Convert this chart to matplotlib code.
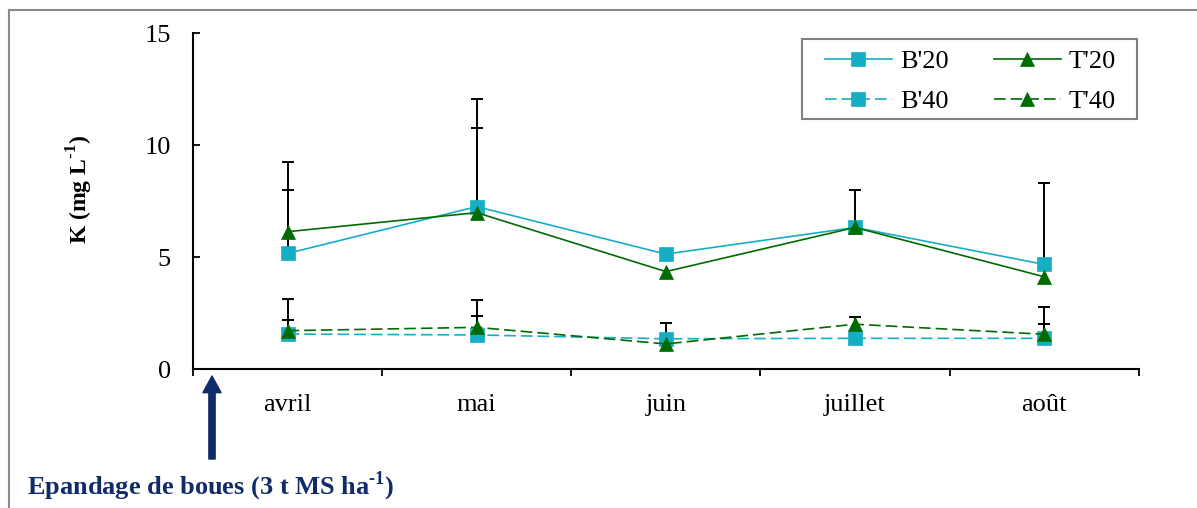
import numpy as np
import matplotlib
matplotlib.use('Agg')
import matplotlib.pyplot as plt
from matplotlib.patches import Rectangle

plt.rcParams['font.family'] = ['Liberation Serif', 'DejaVu Serif']
plt.rcParams['mathtext.fontset'] = 'custom'
plt.rcParams['mathtext.rm'] = 'Liberation Serif:bold'
plt.rcParams['mathtext.bf'] = 'Liberation Serif:bold'

months = ['avril', 'mai', 'juin', 'juillet', 'août']

# mean K concentrations (mg/L)
b20 = [5.16, 7.25, 5.13, 6.32, 4.67]
t20 = [6.13, 6.98, 4.35, 6.32, 4.12]
b40 = [1.56, 1.52, 1.35, 1.37, 1.37]
t40 = [1.71, 1.86, 1.12, 2.00, 1.55]

# upper error bars only (0 = none visible)
b20_err = [2.83, 4.79, 0.0, 0.0, 3.65]
t20_err = [3.10, 3.76, 0.0, 1.67, 0.0]
b40_err = [0.63, 0.85, 0.69, 0.0, 0.63]
t40_err = [1.40, 1.22, 0.0, 0.33, 1.20]

cyan = '#16aec4'
green = '#006b00'
navy = '#0f2b69'

W, H = 1197, 508
fig = plt.figure(figsize=(W / 100, H / 100), dpi=100)
ax = fig.add_axes([0.1612, 0.2736, 0.9513 - 0.1612, 0.935 - 0.2736])

x = np.arange(len(months)) + 0.5

series = [
    ("B'20", b20, b20_err, cyan, 's', '-'),
    ("T'20", t20, t20_err, green, '^', '-'),
    ("B'40", b40, b40_err, cyan, 's', (0, (7, 3))),
    ("T'40", t40, t40_err, green, '^', (0, (7, 3))),
]

handles = {}
for name, vals, err, col, mk, ls in series:
    vals = np.array(vals)
    err = np.array(err)
    m = err > 0
    # error bar only upward, cap at the top
    ax.vlines(x[m], vals[m], vals[m] + err[m], color='black', lw=1.4, zorder=2)
    ax.plot(x[m], vals[m] + err[m], ls='none', marker='_', markersize=8,
            markeredgewidth=1.4, color='black', zorder=2)
    ln, = ax.plot(x, vals, color=col, lw=1.2, ls=ls, marker=mk, markersize=10,
                  markeredgecolor=col, markeredgewidth=0.5, zorder=3, label=name)
    handles[name] = ln

ax.set_xlim(0, len(months))
ax.set_ylim(0, 15)
ax.set_yticks([0, 5, 10, 15])
ax.set_xticks(np.arange(len(months) + 1))
ax.set_xticklabels([])
ax.set_xticks(x, minor=True)
ax.set_xticklabels(months, minor=True)
ax.tick_params(axis='x', which='major', direction='out', length=5, width=1.3)
ax.tick_params(axis='x', which='minor', length=0, pad=18, labelsize=19)
ax.tick_params(axis='y', direction='in', length=5, width=1.3, pad=16, labelsize=19)

for s in ['top', 'right']:
    ax.spines[s].set_visible(False)
for s in ['left', 'bottom']:
    ax.spines[s].set_linewidth(1.5)

fig.text(80 / W, 1 - 190 / H, r'K (mg L$^{\text{-}1}$)', rotation=90,
         ha='center', va='center', fontsize=17, fontweight='bold')

# legend without frame, frame drawn separately (wider side padding)
order = ["B'20", "B'40", "T'20", "T'40"]
leg = ax.legend([handles[k] for k in order], order, ncol=2, fontsize=19,
                loc='upper right', bbox_to_anchor=(1116 / W, 1 - 50 / H),
                bbox_transform=fig.transFigure, borderaxespad=0, frameon=False,
                handlelength=2.55, handletextpad=0.3, columnspacing=1.7,
                labelspacing=0.62, borderpad=0)
fig.add_artist(Rectangle((802 / W, 1 - 119 / H), (1137 - 802) / W, 80 / H,
                         transform=fig.transFigure, fill=False,
                         edgecolor='#808080', lw=1.5))

# sludge spreading arrow and label
ax.annotate('', xy=(212, H - 376), xytext=(212, H - 459), xycoords='figure pixels',
            textcoords='figure pixels',
            arrowprops=dict(width=4.5, headwidth=13, headlength=12, color=navy, shrink=0))
fig.text(27 / W, 1 - 494 / H, r'Epandage de boues (3 t MS ha$^{\text{-}1}$)',
         color=navy, fontsize=19, fontweight='bold', ha='left', va='baseline')

fig.add_artist(Rectangle((9 / W, -0.2), 1.2, 1.2 - 10 / H, transform=fig.transFigure,
                         fill=False, edgecolor='#8a8a8a', lw=1.5))

fig.savefig('out.png', dpi=100)
